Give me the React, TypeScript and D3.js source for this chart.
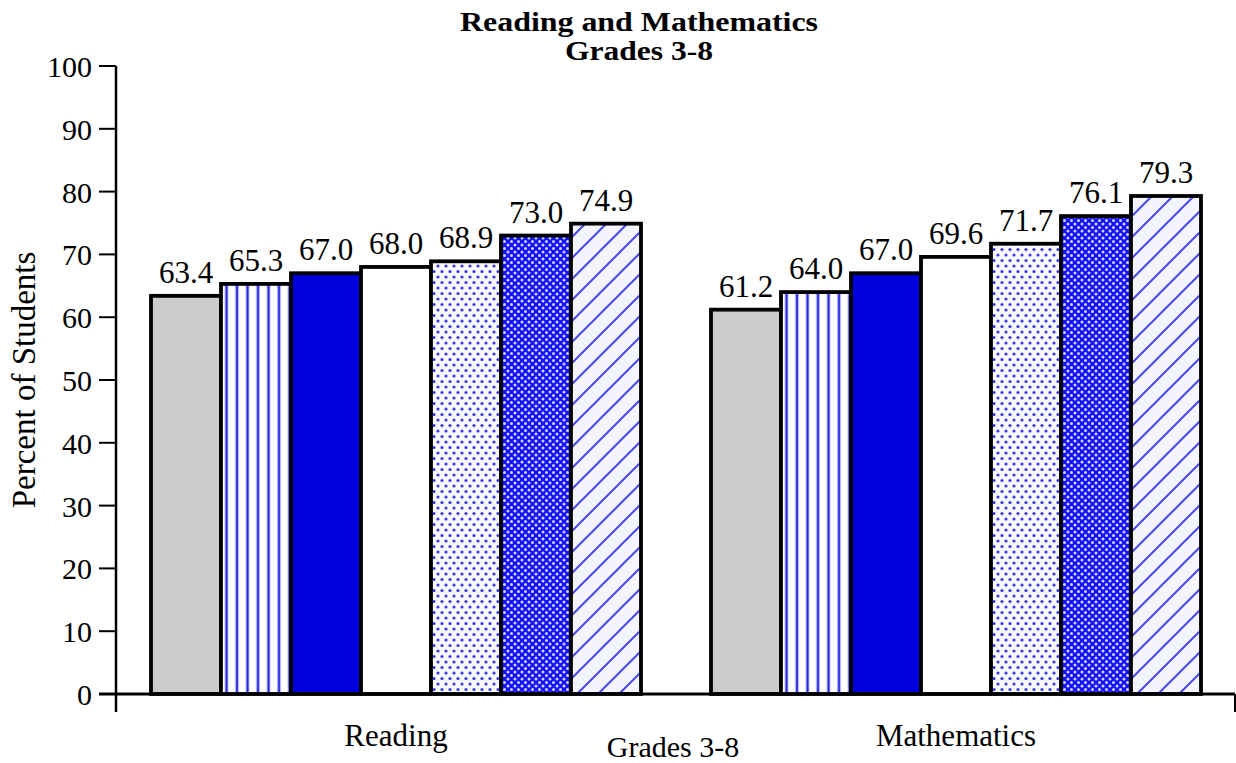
import React from "react";
import * as d3 from "d3";

const categories = ["Reading", "Mathematics"];
const seriesKeys = ["s1", "s2", "s3", "s4", "s5", "s6", "s7"];
const readingValues = [63.4, 65.3, 67.0, 68.0, 68.9, 73.0, 74.9];
const mathValues = [61.2, 64.0, 67.0, 69.6, 71.7, 76.1, 79.3];
const yTicks = [0, 10, 20, 30, 40, 50, 60, 70, 80, 90, 100];
const fills = ["#cccccc", "url(#vstripe)", "#0000dd", "#ffffff", "url(#dots)", "url(#cross)", "url(#diag)"];

const W = 1236, H = 763;
const left = 116, right = 1236, top = 66, bottom = 694;

export default function App() {
  const x0 = d3.scaleBand().domain(categories).range([left, right]).paddingInner(0).paddingOuter(0);
  const x1 = d3.scaleBand().domain(seriesKeys).range([35, x0.bandwidth() - 35]).padding(0);
  const y = d3.scaleLinear().domain([0, 100]).range([bottom, top]);
  const data = [readingValues, mathValues];
  const font = "'Liberation Serif', 'Times New Roman', serif";

  return (
    <svg width={W} height={H} style={{ position: "absolute", left: 0, top: 0, background: "#fff" }} fontFamily={font}>
      <defs>
        <pattern id="vstripe" patternUnits="userSpaceOnUse" width={10.5} height={10}>
          <rect width={10.5} height={10} fill="#ffffff" />
          <rect x={3.5} width={4} height={10} fill="#c8c8f4" />
          <rect x={4.5} width={2} height={10} fill="#2020e0" />
        </pattern>
        <pattern id="dots" patternUnits="userSpaceOnUse" width={8} height={11}>
          <rect width={8} height={11} fill="#f8f8ff" />
          <circle cx={2} cy={2} r={1.6} fill="#3a3aee" />
          <circle cx={6} cy={7.5} r={1.6} fill="#3a3aee" />
        </pattern>
        <pattern id="cross" patternUnits="userSpaceOnUse" width={7} height={7}>
          <rect width={7} height={7} fill="#1414f4" />
          <circle cx={0} cy={0} r={1.5} fill="#d0d0ff" />
          <circle cx={7} cy={0} r={1.5} fill="#d0d0ff" />
          <circle cx={0} cy={7} r={1.5} fill="#d0d0ff" />
          <circle cx={7} cy={7} r={1.5} fill="#d0d0ff" />
          <circle cx={3.5} cy={3.5} r={1.5} fill="#d0d0ff" />
        </pattern>
        <pattern id="diag" patternUnits="userSpaceOnUse" width={21} height={21}>
          <rect width={21} height={21} fill="#f4f4ff" />
          <path d="M-2,23 L23,-2 M-2,2 L2,-2 M19,23 L23,19" stroke="#4848ee" strokeWidth={2} />
        </pattern>
      </defs>

      <text x={639} y={31} textAnchor="middle" fontSize={27} fontWeight="bold" textLength={358} lengthAdjust="spacingAndGlyphs">Reading and Mathematics</text>
      <text x={639} y={60} textAnchor="middle" fontSize={27} fontWeight="bold" textLength={148} lengthAdjust="spacingAndGlyphs">Grades 3-8</text>

      {data.map((vals, ci) => (
        <g key={ci} transform={`translate(${x0(categories[ci])},0)`}>
          {vals.map((v, i) => (
            <g key={i}>
              <rect
                x={x1(seriesKeys[i])}
                y={y(v)}
                width={x1.bandwidth()}
                height={y(0) - y(v)}
                fill={fills[i]}
                stroke="#000"
                strokeWidth={3.8}
              />
              <text
                x={(x1(seriesKeys[i]) as number) + x1.bandwidth() / 2}
                y={y(v) - 13}
                textAnchor="middle"
                fontSize={31}
              >
                {v.toFixed(1)}
              </text>
            </g>
          ))}
        </g>
      ))}

      {/* y axis */}
      <line x1={left} x2={left} y1={top} y2={bottom + 18} stroke="#000" strokeWidth={2.5} />
      {yTicks.map((t) => (
        <g key={t}>
          <line x1={left - 17} x2={left} y1={y(t)} y2={y(t)} stroke="#000" strokeWidth={2} />
          <text x={left - 24} y={y(t) + 11} textAnchor="end" fontSize={30}>{t}</text>
        </g>
      ))}
      {/* x axis */}
      <line x1={left - 17} x2={right - 1} y1={bottom} y2={bottom} stroke="#000" strokeWidth={3} />
      <line x1={right - 1} x2={right - 1} y1={bottom} y2={bottom + 18} stroke="#000" strokeWidth={2} />
      {categories.map((c) => (
        <text key={c} x={(x0(c) as number) + x0.bandwidth() / 2} y={746} textAnchor="middle" fontSize={31}>{c}</text>
      ))}
      <text x={673} y={757} textAnchor="middle" fontSize={30}>Grades 3-8</text>
      <text transform={`translate(35,380) rotate(-90)`} textAnchor="middle" fontSize={33}>Percent of Students</text>
    </svg>
  );
}
